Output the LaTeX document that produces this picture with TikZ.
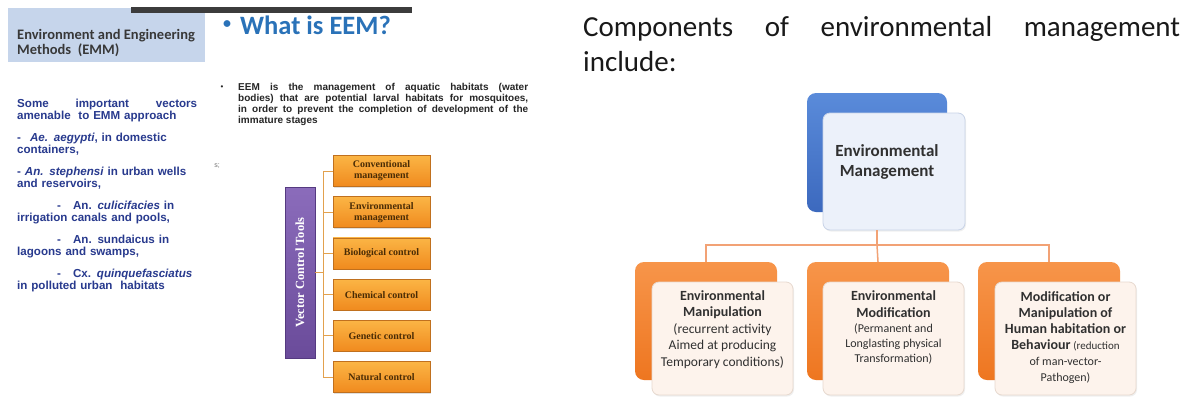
\documentclass[tikz,border=0pt]{standalone}
\usepackage{fontspec}
\usepackage{graphicx}
\setmainfont{Liberation Sans}
\newfontfamily\calibrifont{Carlito}
\newfontfamily\timesfont{Liberation Serif}
\usetikzlibrary{positioning,shadows}

\definecolor{hdrblue}{HTML}{C6D5EB}
\definecolor{bargray}{HTML}{3C3C3C}
\definecolor{eemblue}{HTML}{2A72B8}
\definecolor{vecnavy}{HTML}{283A8E}
\definecolor{paragray}{HTML}{262626}
\definecolor{ctrltop}{HTML}{FBB545}
\definecolor{ctrlbot}{HTML}{F08A1E}
\definecolor{ctrledge}{HTML}{C0701E}
\definecolor{ctrltext}{HTML}{4A2C05}
\definecolor{tooltop}{HTML}{8B6CBB}
\definecolor{toolbot}{HTML}{6A4B9A}
\definecolor{tooledge}{HTML}{553A80}
\definecolor{stemcol}{HTML}{E2A14E}
\definecolor{mgtop}{HTML}{5A8BDA}
\definecolor{mgbot}{HTML}{3C69BE}
\definecolor{mgfill}{HTML}{ECF1FA}
\definecolor{mgedge}{HTML}{C8D3E7}
\definecolor{comptop}{HTML}{F7954A}
\definecolor{compbot}{HTML}{EE7620}
\definecolor{peach}{HTML}{FDF3EC}
\definecolor{peachedge}{HTML}{E7D9CF}
\definecolor{linkcol}{HTML}{F2A275}
\definecolor{boxtext}{HTML}{303030}

\newcommand{\fsz}[2]{\fontsize{#1}{#2}\selectfont}

\begin{document}
\begin{tikzpicture}[x=1pt,y=-1pt,
        ctrl/.style={draw=ctrledge,line width=0.8pt,top color=ctrltop,bottom color=ctrlbot,
            minimum width=97pt,minimum height=31pt,inner sep=1pt,align=center,text=ctrltext,
            font=\timesfont\bfseries\fsz{10}{11},
            drop shadow={opacity=0.25,shadow xshift=1pt,shadow yshift=-1pt}},
        tools/.style={draw=tooledge,line width=0.8pt,top color=tooltop,bottom color=toolbot,
            minimum width=30pt,minimum height=171pt,inner sep=0pt,text=white,
            font=\timesfont\bfseries\fsz{12.5}{14},
            drop shadow={opacity=0.25,shadow xshift=1pt,shadow yshift=-1pt}},
        stem/.style={draw=stemcol,line width=1pt},
        backbox/.style={rounded corners=9pt,minimum height=118pt,inner sep=0pt},
        mgback/.style={backbox,minimum width=140pt,minimum height=119pt,top color=mgtop,bottom color=mgbot},
        mgfront/.style={rounded corners=7pt,draw=mgedge,line width=0.8pt,fill=mgfill,
            minimum width=142pt,minimum height=117pt,
            drop shadow={opacity=0.12,shadow xshift=1pt,shadow yshift=-1.5pt}},
        compback/.style={backbox,minimum width=142pt,top color=comptop,bottom color=compbot},
        compfront/.style={rounded corners=7pt,draw=peachedge,line width=0.8pt,fill=peach,
            minimum width=141pt,minimum height=113pt,
            drop shadow={opacity=0.12,shadow xshift=1pt,shadow yshift=-1.5pt}},
        comptxt/.style={align=center,inner sep=0pt,text=boxtext},
        link/.style={draw=linkcol,line width=1.5pt},
    ]
    \fill[white] (0,0) rectangle (1186,397);
    \useasboundingbox (0,0) rectangle (1186,397);

    % left slide: header and vectors
    \fill[hdrblue] (8,8) rectangle (205,62);
    \node[anchor=north west,inner sep=0pt,align=left,text=black!78,
        font=\calibrifont\bfseries\fsz{14.5}{15.5}] (hdr) at (17,29)
        {Environment and Engineering\\Methods \ (EMM)};
    \fill[bargray] (131,7) rectangle (412,13);

    \node[inner sep=0pt,text=eemblue,font=\calibrifont\bfseries\fsz{16}{20}] (eembullet) at (227,25) {•};
    \node[anchor=west,inner sep=0pt,text=eemblue,font=\calibrifont\bfseries\fsz{26.5}{30}] (eem) at (240,25) {What is EEM?};

    \node[inner sep=0pt,text=paragray,font=\fsz{8}{10}] (parabullet) at (222,88) {•};
    \node[anchor=north west,inner sep=0pt,text width=290pt,align=justify,text=paragray,
        font=\bfseries\fsz{10}{11}] (para) at (238,83.5)
        {EEM is the management of aquatic habitats (water\linebreak
         bodies) that are potential larval habitats for mosquitoes,\linebreak
         in order to prevent the completion of development of the\linebreak
         immature stages};

    \node[anchor=north west,inner sep=0pt,text width=215pt,align=left,text=vecnavy,
        font=\bfseries\fsz{11.6}{12.3}] (vectors) at (17,98.5)
        {\makebox[180pt][l]{Some\hfill important\hfill vectors}\\
         amenable \ to EMM approach\\[9.5pt]
         -\hspace{9pt}\textit{Ae. aegypti}, in domestic\\
         containers,\\[9.5pt]
         - \textit{An. stephensi} in urban wells\\
         and reservoirs,\\[9.5pt]
         \hspace*{40pt}-\hspace{12pt}An. \textit{culicifacies} in\\
         irrigation canals and pools,\\[9.5pt]
         \hspace*{40pt}-\hspace{12pt}An. sundaicus in\\
         lagoons and swamps,\\[9.5pt]
         \hspace*{40pt}-\hspace{12pt}Cx. \textit{quinquefasciatus}\\
         in polluted urban \ habitats};

    \node[inner sep=0pt,text=black!55,font=\fsz{7}{8}] (stray) at (217,166) {s;};

    % vector control tools
    \node[tools] (tools) at (300,272.5) {\rotatebox{90}{Vector Control Tools}};
    \node[ctrl] (c1) at (381.5,171) {Conventional\\management};
    \node[ctrl,below=9.4pt of c1] (c2) {Environmental\\management};
    \node[ctrl,below=9.4pt of c2] (c3) {Biological control};
    \node[ctrl,below=9.4pt of c3] (c4) {Chemical control};
    \node[ctrl,below=9.4pt of c4] (c5) {Genetic control};
    \node[ctrl,below=9.4pt of c5] (c6) {Natural control};
    \coordinate[right=8pt of tools.east] (spine);
    \draw[stem] (tools.east) -- (spine);
    \draw[stem] (spine |- c1.west) -- (spine |- c6.west);
    \foreach \c in {c1,c2,c3,c4,c5,c6}
        \draw[stem] (spine |- \c.west) -- (\c.west);

    % right slide
    \node[anchor=base west,inner sep=0pt,text=black!90,font=\calibrifont\fsz{29}{35}] (title1) at (583,36)
        {\makebox[597pt][s]{Components of environmental management}};
    \node[anchor=base west,inner sep=0pt,text=black!90,font=\calibrifont\fsz{29}{35}] (title2) at (583,71)
        {include:};

    \node[mgback] (embk) at (877,152.5) {};
    \node[mgfront] (em) at (894,171.5) {};
    \node[comptxt,font=\calibrifont\bfseries\fsz{17}{19.5}] (emtxt) at (887,162) {Environmental\\Management};

    \node[compback] (k1bk) at (706,321) {};
    \node[compback] (k2bk) at (878,321) {};
    \node[compback] (k3bk) at (1049,321) {};
    \node[compfront] (k1) at (722.5,338.5) {};
    \node[compfront] (k2) at (893.5,338.5) {};
    \node[compfront] (k3) at (1065.5,338.5) {};

    \node[comptxt,font=\calibrifont\fsz{13.5}{16.5},below=8.5pt of k1.north] (k1txt)
        {\textbf{\fsz{14}{16.5}Environmental}\\\textbf{\fsz{14}{16.5}Manipulation}\\(recurrent activity\\Aimed at producing\\Temporary conditions)};
    \node[comptxt,font=\calibrifont\fsz{12}{15},below=8.5pt of k2.north] (k2txt)
        {\textbf{\fsz{14}{15}Environmental}\\[2pt]\textbf{\fsz{14}{15}Modification}\\(Permanent and\\Longlasting physical\\Transformation)};
    \node[comptxt,font=\calibrifont\fsz{12}{16},below=10pt of k3.north] (k3txt)
        {\textbf{\fsz{14}{16}Modification or}\\\textbf{\fsz{14}{16}Manipulation of}\\\textbf{\fsz{14}{16}Human habitation or}\\\textbf{\fsz{14}{16}Behaviour} {\fsz{11}{16}(reduction}\\of man-vector-\\Pathogen)};

    \coordinate[below=33pt of embk.south] (hub);
    \draw[link] (hub |- em.south) -- (hub);
    \draw[link] (k1bk.north) -- (k1bk.north |- hub) -- (k3bk.north |- hub) -- (k3bk.north);
    \draw[link] (hub) -- (k2bk.north);
\end{tikzpicture}
\end{document}
